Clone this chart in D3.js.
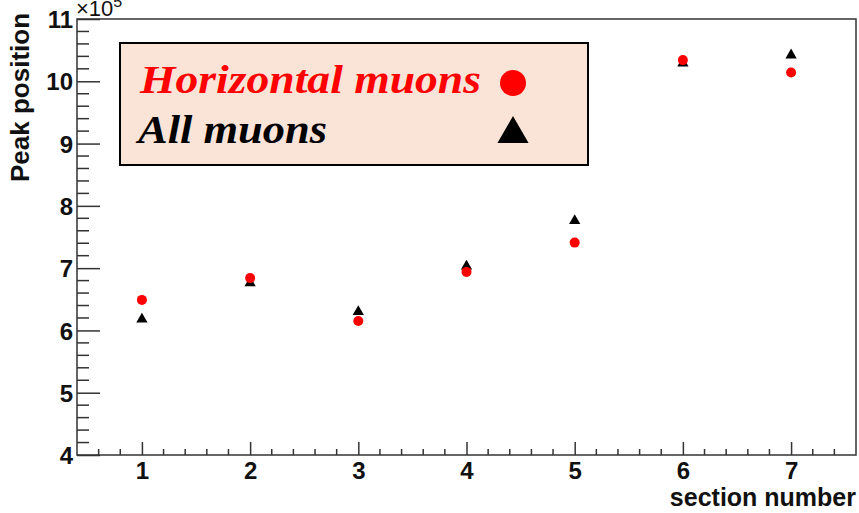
<!DOCTYPE html>
<html>
<head>
<meta charset="utf-8">
<script src="https://cdn.jsdelivr.net/npm/d3@7"></script>
<style>
  body { margin: 0; background: #fff; }
  svg { display: block; font-family: "Liberation Sans", Arial, sans-serif; }
</style>
</head>
<body>
<svg class="chart"></svg>
<script>
var svgWidth = 859,
    svgHeight = 513,
    margin = {top: 19, right: 3, bottom: 58, left: 77},
    width = svgWidth - margin.left - margin.right,
    height = svgHeight - margin.top - margin.bottom;

// data, in units of 10^5
var sections = [1, 2, 3, 4, 5, 6, 7];
var horizontalMuons = [6.49, 6.84, 6.15, 6.94, 7.41, 10.34, 10.14];
var allMuons = [6.18, 6.76, 6.30, 7.03, 7.76, 10.29, 10.42];
var xTicks = [1, 2, 3, 4, 5, 6, 7];
var yTicks = [4, 5, 6, 7, 8, 9, 10, 11];

var xScale = d3.scaleLinear().domain([0.4, 7.6]).range([0, width]),
    yScale = d3.scaleLinear().domain([4, 11]).range([height, 0]);

var svg = d3.select('.chart')
    .attr('width', svgWidth)
    .attr('height', svgHeight);

var g = svg.append('g')
    .attr('transform', 'translate(' + margin.left + ',' + margin.top + ')');

// frame
g.append('rect')
    .attr('width', width).attr('height', height)
    .attr('fill', 'none').attr('stroke', '#333').attr('stroke-width', 1.5);

// minor ticks
var xMinor = d3.range(0.6, 7.6, 0.2).map(function(d) { return Math.round(d * 10) / 10; })
    .filter(function(d) { return xTicks.indexOf(d) < 0; });
var yMinor = d3.range(4.2, 11, 0.2).map(function(d) { return Math.round(d * 10) / 10; })
    .filter(function(d) { return yTicks.indexOf(d) < 0; });

g.selectAll('.xminor').data(xMinor).enter().append('line')
    .attr('x1', xScale).attr('x2', xScale)
    .attr('y1', height).attr('y2', height - 6)
    .attr('stroke', '#333').attr('stroke-width', 1.5);

g.selectAll('.yminor').data(yMinor).enter().append('line')
    .attr('y1', yScale).attr('y2', yScale)
    .attr('x1', 0).attr('x2', 12)
    .attr('stroke', '#333').attr('stroke-width', 1.5);

// major ticks with axes
var xAxis = d3.axisBottom(xScale).tickValues(xTicks).tickFormat(d3.format('d')).tickSizeInner(-13).tickSizeOuter(0);
var yAxis = d3.axisLeft(yScale).tickValues(yTicks).tickFormat(d3.format('d')).tickSizeInner(-23).tickSizeOuter(0);

var gx = g.append('g').attr('transform', 'translate(0,' + height + ')').call(xAxis);
var gy = g.append('g').call(yAxis);

[gx, gy].forEach(function(a) {
  a.select('.domain').remove();
  a.selectAll('line').attr('stroke', '#333').attr('stroke-width', 1.5);
  a.selectAll('text')
      .attr('fill', '#111')
      .style('font-size', '24px')
      .style('font-weight', 'bold')
      .style('font-family', '"Liberation Sans", Arial, sans-serif');
});
gx.selectAll('text').attr('y', 7);
gy.selectAll('text').attr('x', -4).attr('dy', '0.36em');

// exponent
var expo = svg.append('text')
    .attr('x', margin.left - 1).attr('y', 16)
    .attr('fill', '#111')
    .style('font-size', '22px');
expo.append('tspan').text('\u00d710');
expo.append('tspan').attr('dy', -9).style('font-size', '16px').text('5');

// axis titles
svg.append('text')
    .attr('x', 856).attr('y', 506)
    .attr('text-anchor', 'end')
    .attr('fill', '#111')
    .style('font-size', '25px').style('font-weight', 'bold')
    .text('section number');

svg.append('text')
    .attr('transform', 'translate(29,182) rotate(-90)')
    .attr('fill', '#111')
    .style('font-size', '26px').style('font-weight', 'bold')
    .text('Peak position');

// points
var triangle = d3.symbol().type(d3.symbolTriangle).size(55);

g.selectAll('.tri').data(sections).enter().append('path')
    .attr('class', 'tri')
    .attr('d', triangle)
    .attr('transform', function(d, i) { return 'translate(' + xScale(d) + ',' + yScale(allMuons[i]) + ')'; })
    .attr('fill', '#000');

g.selectAll('.dot').data(sections).enter().append('circle')
    .attr('class', 'dot')
    .attr('cx', function(d) { return xScale(d); })
    .attr('cy', function(d, i) { return yScale(horizontalMuons[i]); })
    .attr('r', 5)
    .attr('fill', '#ff0000');

// legend
var legend = svg.append('g');
legend.append('rect')
    .attr('x', 120).attr('y', 43).attr('width', 468).attr('height', 122)
    .attr('fill', '#fae3d7').attr('stroke', '#000').attr('stroke-width', 2);

legend.append('text')
    .attr('x', 140).attr('y', 93)
    .attr('fill', '#ff0000')
    .style('font-family', '"Liberation Serif", "Times New Roman", serif')
    .style('font-size', '40px').style('font-weight', 'bold').style('font-style', 'italic')
    .attr('textLength', 341).attr('lengthAdjust', 'spacingAndGlyphs')
    .text('Horizontal muons');

legend.append('text')
    .attr('x', 138).attr('y', 143)
    .attr('fill', '#000')
    .style('font-family', '"Liberation Serif", "Times New Roman", serif')
    .style('font-size', '40px').style('font-weight', 'bold').style('font-style', 'italic')
    .attr('textLength', 189).attr('lengthAdjust', 'spacingAndGlyphs')
    .text('All muons');

legend.append('circle')
    .attr('cx', 513).attr('cy', 83).attr('r', 13)
    .attr('fill', '#ff0000');

legend.append('path')
    .attr('d', d3.symbol().type(d3.symbolTriangle).size(420))
    .attr('transform', 'translate(513,134)')
    .attr('fill', '#000');
</script>
</body>
</html>
